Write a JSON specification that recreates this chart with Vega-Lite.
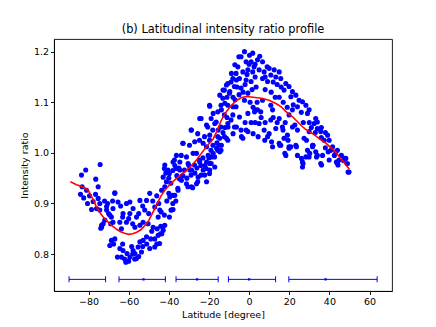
{
"$schema": "https://vega.github.io/schema/vega-lite/v6.json",
"width": 338, "height": 252,
"autosize": {"type": "none"},
"padding": {"left": 54, "top": 39, "right": 44, "bottom": 36},
"title": {"text": "(b) Latitudinal intensity ratio profile", "font": "DejaVu Sans", "fontSize": 11.4, "fontWeight": "normal", "color": "black", "anchor": "middle", "offset": 4},
"config": {
  "view": {"stroke": "black", "strokeWidth": 0.9},
  "axis": {"grid": false, "domainColor": "black", "domainWidth": 0.9, "tickColor": "black", "tickWidth": 0.9, "tickSize": 3.5, "labelFont": "DejaVu Sans", "labelFontSize": 9.5, "labelColor": "black", "titleFont": "DejaVu Sans", "titleFontSize": 9.5, "titleFontWeight": "normal", "titleColor": "black", "labelPadding": 2}
},
"datasets": {
"pts": [
{"x":-74.2,"y":0.977},{"x":-81.4,"y":0.966},{"x":-83.5,"y":0.956},{"x":-76.4,"y":0.948},{"x":-75.2,"y":0.933},{"x":-83.2,"y":0.933},{"x":-84,"y":0.918},{"x":-82.4,"y":0.911},{"x":-81,"y":0.926},{"x":-78.5,"y":0.888},{"x":-77.7,"y":0.904},{"x":-75.2,"y":0.910},{"x":-74.4,"y":0.887},{"x":-71,"y":0.894},{"x":-73.5,"y":0.857},{"x":-72.7,"y":0.860},{"x":-73.9,"y":0.851},{"x":-67.8,"y":0.890},{"x":-68.6,"y":0.873},{"x":-66.9,"y":0.921},{"x":-76,"y":0.890},{"x":-74.4,"y":0.900},{"x":-71.9,"y":0.867},{"x":-73.5,"y":0.853},{"x":-71,"y":0.887},{"x":-69.4,"y":0.877},{"x":-67.8,"y":0.863},{"x":-79.5,"y":0.915},{"x":-80.5,"y":0.900},{"x":-72,"y":0.905},{"x":-70,"y":0.880},{"x":-69,"y":0.860},{"x":-76.5,"y":0.918},
{"x":-61.4,"y":0.784},{"x":-65.6,"y":0.794},{"x":-69.4,"y":0.817},{"x":-68.6,"y":0.827},{"x":-66.9,"y":0.830},{"x":-62.8,"y":0.807},{"x":-59.4,"y":0.794},{"x":-56.9,"y":0.801},{"x":-55.3,"y":0.814},{"x":-52.8,"y":0.827},{"x":-54.4,"y":0.824},{"x":-51.1,"y":0.834},{"x":-49.5,"y":0.811},{"x":-47,"y":0.814},{"x":-45.3,"y":0.837},{"x":-44.1,"y":0.840},{"x":-42.8,"y":0.847},{"x":-42,"y":0.857},{"x":-47.8,"y":0.853},{"x":-56.1,"y":0.791},{"x":-57.8,"y":0.807},{"x":-53.6,"y":0.804},{"x":-60.8,"y":0.801},{"x":-63.6,"y":0.794},{"x":-64.4,"y":0.811},
{"x":-67.5,"y":0.820},{"x":-63,"y":0.820},{"x":-58.5,"y":0.815},{"x":-60,"y":0.786},{"x":-58,"y":0.800},{"x":-55,"y":0.795},{"x":-53,"y":0.815},{"x":-51,"y":0.820},{"x":-49,"y":0.830},{"x":-47,"y":0.830},{"x":-46,"y":0.820},{"x":-44,"y":0.855},{"x":-45.8,"y":0.850},{"x":-48.5,"y":0.845},{"x":-62,"y":0.790},{"x":-57,"y":0.790},
{"x":-66.9,"y":0.920},{"x":-65.3,"y":0.903},{"x":-61.1,"y":0.900},{"x":-59.4,"y":0.903},{"x":-62.8,"y":0.880},{"x":-59.4,"y":0.880},{"x":-57.8,"y":0.890},{"x":-54.4,"y":0.906},{"x":-56.1,"y":0.873},{"x":-52,"y":0.887},{"x":-51.1,"y":0.906},{"x":-49.5,"y":0.920},{"x":-52.8,"y":0.863},{"x":-54.4,"y":0.857},{"x":-50.3,"y":0.860},{"x":-47,"y":0.893},{"x":-45.3,"y":0.873},{"x":-44.5,"y":0.887},{"x":-43.6,"y":0.926},{"x":-42,"y":0.933},{"x":-41.2,"y":0.943},{"x":-38.7,"y":0.887},{"x":-37.9,"y":0.888},{"x":-39.5,"y":0.913},{"x":-42.8,"y":0.952},{"x":-64.4,"y":0.863},{"x":-63.6,"y":0.850},{"x":-61.1,"y":0.863},{"x":-56.9,"y":0.853},
{"x":-70.5,"y":0.900},{"x":-68,"y":0.905},{"x":-64,"y":0.895},{"x":-63,"y":0.873},{"x":-60,"y":0.870},{"x":-58,"y":0.860},{"x":-55,"y":0.880},{"x":-53,"y":0.895},{"x":-50,"y":0.880},{"x":-48,"y":0.905},{"x":-46,"y":0.915},{"x":-45,"y":0.900},{"x":-41,"y":0.905},{"x":-40,"y":0.920},{"x":-38,"y":0.900},{"x":-36.5,"y":0.905},{"x":-39,"y":0.940},{"x":-40,"y":0.950},{"x":-41.5,"y":0.960},{"x":-38,"y":0.965},{"x":-36,"y":0.955},{"x":-37,"y":0.975},{"x":-35,"y":0.970},
{"x":-43.8,"y":0.883},{"x":-42.2,"y":0.877},{"x":-39.7,"y":0.873},{"x":-38.9,"y":0.887},{"x":-43,"y":0.853},{"x":-43.5,"y":0.840},{"x":-44.6,"y":0.821},{"x":-42.2,"y":0.969},{"x":-39.7,"y":0.959},{"x":-37.2,"y":0.986},{"x":-33.8,"y":0.995},{"x":-35.5,"y":0.930},{"x":-38,"y":0.916},{"x":-32.2,"y":0.966},{"x":-28.9,"y":0.956},{"x":-30.5,"y":0.933},{"x":-28.1,"y":0.931},{"x":-25.6,"y":0.943},{"x":-23.9,"y":0.956},{"x":-21.4,"y":0.969},{"x":-19.7,"y":0.959},{"x":-18.9,"y":0.979},{"x":-15.6,"y":1.005},{"x":-14,"y":1.005},{"x":-17.2,"y":0.992},{"x":-24.7,"y":0.986},{"x":-27.2,"y":0.976},{"x":-34.7,"y":0.949},
{"x":-36.2,"y":0.969},{"x":-34.5,"y":0.982},{"x":-31.2,"y":0.992},{"x":-27.9,"y":0.999},{"x":-29.5,"y":0.966},{"x":-25.4,"y":0.952},{"x":-22.9,"y":0.966},{"x":-19.6,"y":0.979},{"x":-17.9,"y":0.999},{"x":-14.6,"y":1.002},{"x":-33.7,"y":0.946},{"x":-31.2,"y":0.939},{"x":-28.7,"y":0.933},{"x":-26.2,"y":0.939},{"x":-21.2,"y":0.943},{"x":-35.4,"y":0.926},{"x":-37,"y":0.916},{"x":-40.4,"y":0.966},{"x":-42,"y":0.976},
{"x":-36.2,"y":0.995},{"x":-37.9,"y":0.982},{"x":-32.9,"y":1.019},{"x":-28.7,"y":1.045},{"x":-27.1,"y":1.022},{"x":-24.6,"y":1.068},{"x":-19.6,"y":1.092},{"x":-21.2,"y":1.055},{"x":-17.9,"y":1.078},{"x":-14.6,"y":1.114},{"x":-13,"y":1.124},{"x":-11.3,"y":1.134},{"x":-8.8,"y":1.157},{"x":-7.1,"y":1.174},{"x":-5.1,"y":1.190},{"x":-6.3,"y":1.144},{"x":-9.6,"y":1.121},{"x":-12.1,"y":1.098},{"x":-8,"y":1.091},{"x":-10.5,"y":1.051},{"x":-6.3,"y":1.051},{"x":-15.4,"y":1.045},{"x":-19.6,"y":1.035},{"x":-14.6,"y":1.029},{"x":-22.9,"y":1.019},{"x":-20.4,"y":0.995},{"x":-26.2,"y":0.999},{"x":-30.4,"y":0.979},{"x":-28.7,"y":0.966},{"x":-34.5,"y":0.966},{"x":-24.6,"y":0.982},{"x":-21.2,"y":1.012},{"x":-17.1,"y":1.058},{"x":-13.8,"y":1.085},
{"x":-4,"y":1.190},{"x":-2.3,"y":1.200},{"x":0.2,"y":1.193},{"x":-1.5,"y":1.180},{"x":1.8,"y":1.197},{"x":-5.6,"y":1.170},{"x":-6.5,"y":1.157},{"x":-3.1,"y":1.160},{"x":-0.6,"y":1.164},{"x":1.8,"y":1.160},{"x":-4.8,"y":1.147},{"x":-1.5,"y":1.144},{"x":1,"y":1.141},{"x":-10.6,"y":1.137},{"x":-8.1,"y":1.147},{"x":-7.3,"y":1.131},{"x":-12.3,"y":1.124},{"x":-9.8,"y":1.118},{"x":-4,"y":1.128},{"x":-0.6,"y":1.118},{"x":-2.3,"y":1.104},{"x":-13.1,"y":1.108},{"x":-14,"y":1.094},{"x":-10.6,"y":1.094},{"x":-6.5,"y":1.091},{"x":-15.6,"y":1.081},{"x":-12.3,"y":1.075},{"x":-8.1,"y":1.075},{"x":-4.8,"y":1.071},{"x":-0.6,"y":1.078},{"x":2.7,"y":1.081},{"x":-18.9,"y":1.068},{"x":-16.4,"y":1.061},{"x":-19.7,"y":1.094},{"x":-23.9,"y":1.068},{"x":-20.6,"y":1.051},{"x":-18.1,"y":1.045},{"x":-14,"y":1.051},{"x":-10.6,"y":1.058},{"x":-7.3,"y":1.051},{"x":-4,"y":1.045},{"x":-0.6,"y":1.042},{"x":-28.9,"y":1.045},{"x":-25.6,"y":1.038},{"x":-22.2,"y":1.032},{"x":-19.7,"y":1.025},{"x":-33,"y":1.019},{"x":-29.7,"y":1.015},{"x":-24.7,"y":1.025},{"x":-12.3,"y":1.032},{"x":-10.6,"y":1.025},{"x":-15.6,"y":1.032},{"x":-3.1,"y":1.029},{"x":-1.5,"y":1.045},
{"x":-3.8,"y":1.032},{"x":-8,"y":1.038},{"x":-11.3,"y":1.029},{"x":-13.8,"y":1.015},{"x":-16.2,"y":1.009},{"x":-18.7,"y":0.992},{"x":-21.2,"y":0.982},{"x":-17.1,"y":0.972},{"x":-19.6,"y":0.966},{"x":-22.1,"y":0.956},
{"x":5.3,"y":1.191},{"x":6.7,"y":1.180},{"x":4.2,"y":1.184},{"x":5,"y":1.164},{"x":7.5,"y":1.160},{"x":10,"y":1.167},{"x":12.5,"y":1.164},{"x":15,"y":1.160},{"x":10.8,"y":1.154},{"x":13.3,"y":1.150},{"x":15.8,"y":1.147},{"x":6.7,"y":1.147},{"x":9.2,"y":1.141},{"x":18.3,"y":1.137},{"x":19.9,"y":1.131},{"x":17.4,"y":1.124},{"x":21.6,"y":1.121},{"x":23.3,"y":1.114},{"x":20.8,"y":1.111},{"x":24.9,"y":1.104},{"x":26.6,"y":1.101},{"x":28.3,"y":1.094},{"x":24.1,"y":1.091},{"x":29.9,"y":1.085},{"x":29.1,"y":1.078},{"x":21.6,"y":1.085},{"x":19.9,"y":1.075},{"x":33.2,"y":1.068},{"x":34,"y":1.061},{"x":32.4,"y":1.058},{"x":35.7,"y":1.042},{"x":39.1,"y":1.035},{"x":39.9,"y":1.025},{"x":41.6,"y":1.012},{"x":29.9,"y":1.042},{"x":27.4,"y":1.029},{"x":31.6,"y":1.015},{"x":24.1,"y":1.045},{"x":21.6,"y":1.051},{"x":19.1,"y":1.035},{"x":16.6,"y":1.051},{"x":13.3,"y":1.048},{"x":10.8,"y":1.065},{"x":15,"y":1.068},{"x":10,"y":1.038},{"x":7.5,"y":1.045},{"x":5,"y":1.058},{"x":4.2,"y":1.085},{"x":5.8,"y":1.081},{"x":11.7,"y":1.085},{"x":10.8,"y":1.094},{"x":6.7,"y":1.104},{"x":9.2,"y":1.032},{"x":17.4,"y":1.029},{"x":23.3,"y":1.015},{"x":19.9,"y":1.012},{"x":15,"y":1.019},{"x":11.7,"y":1.012},{"x":34,"y":1.048},{"x":37.4,"y":1.025},
{"x":15.8,"y":1.015},{"x":18.3,"y":0.995},{"x":19.9,"y":1.009},{"x":24.1,"y":0.995},{"x":26.6,"y":0.982},{"x":26.6,"y":0.972},{"x":28.3,"y":0.992},{"x":29.9,"y":0.992},{"x":29.1,"y":1.005},{"x":31.6,"y":1.012},{"x":33.2,"y":1.002},{"x":34,"y":0.995},{"x":36.6,"y":0.995},{"x":35.7,"y":0.979},{"x":39.9,"y":0.986},{"x":40.7,"y":1.005},{"x":43.2,"y":1.002},{"x":44,"y":0.979},{"x":44.8,"y":0.986},{"x":48.2,"y":0.989},{"x":49,"y":0.979},{"x":49.8,"y":0.962},{"x":20.8,"y":1.012},
{"x":17.8,"y":0.999},{"x":26.9,"y":0.979},{"x":26.1,"y":0.989},{"x":33.6,"y":0.992},{"x":36.1,"y":0.976},{"x":39.4,"y":1.002},{"x":43.5,"y":0.982},{"x":47.7,"y":0.989},{"x":49.3,"y":0.962},{"x":44.3,"y":0.976},{"x":19.4,"y":1.025},{"x":15.3,"y":1.015},{"x":11.2,"y":1.022},{"x":7.8,"y":1.025},{"x":4.5,"y":1.032},{"x":2,"y":1.038},{"x":22.8,"y":1.055},{"x":16.9,"y":1.045},{"x":28.6,"y":1.025},{"x":31.9,"y":1.015},{"x":23.6,"y":1.012},{"x":30.2,"y":0.999},
{"x":2.5,"y":1.170},{"x":3,"y":1.150},{"x":1.5,"y":1.125},{"x":3.5,"y":1.130},{"x":0.5,"y":1.100},{"x":2,"y":1.090},{"x":3,"y":1.060},{"x":1,"y":1.060},{"x":-2,"y":1.060},{"x":4,"y":1.100},{"x":46,"y":0.995},{"x":47,"y":0.985},{"x":42.5,"y":0.995},{"x":38,"y":1.010},{"x":36,"y":1.030},{"x":44,"y":1.005},
{"x":-33,"y":0.955},{"x":-31,"y":0.950},{"x":-30,"y":0.975},{"x":-27,"y":0.960},{"x":-26,"y":0.970},{"x":-24,"y":0.975},{"x":-23,"y":0.990},{"x":-22,"y":0.975},{"x":-20,"y":0.990},{"x":-19,"y":1.005},{"x":-18,"y":1.015},{"x":-16,"y":1.020},{"x":-15,"y":1.015},{"x":-13,"y":1.040},{"x":-12,"y":1.050},{"x":-11,"y":1.070},{"x":-9,"y":1.065},{"x":-8,"y":1.110},{"x":-7,"y":1.105},{"x":-5,"y":1.115},{"x":-3,"y":1.120},{"x":-2,"y":1.135},{"x":-11,"y":1.110},{"x":-9,"y":1.140},{"x":-6,"y":1.130},{"x":0,"y":1.175},{"x":-1,"y":1.155},{"x":1,"y":1.180},{"x":3,"y":1.175},{"x":8,"y":1.150},{"x":9,"y":1.170},{"x":12,"y":1.140},{"x":14,"y":1.135},{"x":16,"y":1.130},{"x":8,"y":1.125},{"x":11,"y":1.120},{"x":13,"y":1.110},{"x":15,"y":1.110},{"x":17,"y":1.100},{"x":19,"y":1.090},{"x":22,"y":1.095},{"x":26,"y":1.080},{"x":27,"y":1.060},{"x":30,"y":1.060},{"x":31,"y":1.050},{"x":33,"y":1.040},{"x":36,"y":1.050},{"x":38,"y":1.040},{"x":12,"y":1.070},{"x":14,"y":1.060},{"x":18,"y":1.060},{"x":8,"y":1.060},{"x":6,"y":1.070},{"x":3,"y":1.085}
],
"fit": [
{"x":-89,"y":0.943},{"x":-86,"y":0.937},{"x":-83,"y":0.933},{"x":-81.5,"y":0.930},{"x":-80,"y":0.925},{"x":-78,"y":0.910},{"x":-76,"y":0.893},{"x":-74,"y":0.880},{"x":-72,"y":0.870},{"x":-70,"y":0.862},{"x":-68,"y":0.855},{"x":-66,"y":0.849},{"x":-64,"y":0.844},{"x":-62,"y":0.841},{"x":-60,"y":0.839},{"x":-58,"y":0.840},{"x":-56,"y":0.843},{"x":-54,"y":0.848},{"x":-52,"y":0.856},{"x":-50,"y":0.866},{"x":-48,"y":0.882},{"x":-46,"y":0.898},{"x":-44,"y":0.914},{"x":-42,"y":0.926},{"x":-40,"y":0.935},{"x":-38,"y":0.943},{"x":-36,"y":0.950},{"x":-34,"y":0.957},{"x":-32,"y":0.963},{"x":-30,"y":0.970},{"x":-28,"y":0.978},{"x":-26,"y":0.987},{"x":-24,"y":0.998},{"x":-22,"y":1.008},{"x":-20,"y":1.018},{"x":-18,"y":1.027},{"x":-16,"y":1.043},{"x":-14,"y":1.063},{"x":-12,"y":1.078},{"x":-10,"y":1.088},{"x":-8,"y":1.097},{"x":-6,"y":1.104},{"x":-4,"y":1.109},{"x":-2,"y":1.111},{"x":0,"y":1.111},{"x":2,"y":1.110},{"x":4,"y":1.109},{"x":6,"y":1.108},{"x":8,"y":1.106},{"x":10,"y":1.104},{"x":12,"y":1.100},{"x":14,"y":1.096},{"x":16,"y":1.091},{"x":18,"y":1.083},{"x":20,"y":1.076},{"x":22,"y":1.070},{"x":24,"y":1.062},{"x":26,"y":1.054},{"x":28,"y":1.047},{"x":30,"y":1.042},{"x":32,"y":1.037},{"x":34,"y":1.031},{"x":36,"y":1.025},{"x":38,"y":1.020},{"x":40,"y":1.013},{"x":42,"y":1.006},{"x":44,"y":0.997},{"x":46,"y":0.987},{"x":48,"y":0.977},{"x":50,"y":0.968}
],
"eb": [
{"lo":-89.7,"hi":-71.5,"c":null,"y":0.75},
{"lo":-64.8,"hi":-41.7,"c":-52.6,"y":0.75},
{"lo":-36.4,"hi":-15.4,"c":-25.9,"y":0.75},
{"lo":-10.3,"hi":13.2,"c":0,"y":0.75},
{"lo":19.8,"hi":63.8,"c":38.1,"y":0.75}
]
},
"encoding": {},
"layer": [
{"data": {"name": "pts"}, "mark": {"type": "circle", "size": 26, "color": "#0000ff", "opacity": 1},
 "encoding": {
  "x": {"field": "x", "type": "quantitative", "scale": {"domain": [-97.2, 71.2], "nice": false, "zero": false}, "axis": {"values": [-80,-60,-40,-20,0,20,40,60], "title": "Latitude [degree]", "titlePadding": 3}},
  "y": {"field": "y", "type": "quantitative", "scale": {"domain": [0.727, 1.225], "nice": false, "zero": false}, "axis": {"values": [0.8,0.9,1.0,1.1,1.2], "format": ".1f", "title": "Intensity ratio", "titlePadding": 4}}
 }},
{"data": {"name": "fit"}, "mark": {"type": "line", "color": "#ff0000", "strokeWidth": 1.6},
 "encoding": {"x": {"field": "x", "type": "quantitative"}, "y": {"field": "y", "type": "quantitative"}}},
{"data": {"name": "eb"}, "mark": {"type": "rule", "color": "#0000ff", "strokeWidth": 1},
 "encoding": {"x": {"field": "lo", "type": "quantitative"}, "x2": {"field": "hi"}, "y": {"field": "y", "type": "quantitative"}}},
{"data": {"name": "eb"}, "mark": {"type": "tick", "orient": "vertical", "color": "#0000ff", "size": 6, "thickness": 1, "opacity": 1},
 "encoding": {"x": {"field": "lo", "type": "quantitative"}, "y": {"field": "y", "type": "quantitative"}}},
{"data": {"name": "eb"}, "mark": {"type": "tick", "orient": "vertical", "color": "#0000ff", "size": 6, "thickness": 1, "opacity": 1},
 "encoding": {"x": {"field": "hi", "type": "quantitative"}, "y": {"field": "y", "type": "quantitative"}}},
{"data": {"name": "eb"}, "mark": {"type": "square", "color": "#0000ff", "size": 5, "opacity": 1},
 "encoding": {"x": {"field": "c", "type": "quantitative"}, "y": {"field": "y", "type": "quantitative"}}}
]
}
